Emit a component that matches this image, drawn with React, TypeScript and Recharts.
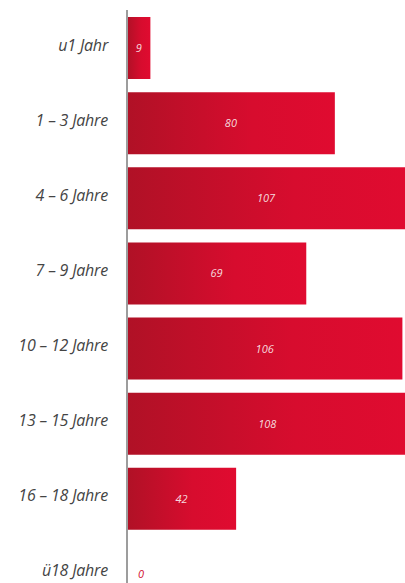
import { BarChart, Bar, XAxis, YAxis, LabelList } from "recharts";

const categories = ["u1 Jahr", "1 – 3 Jahre", "4 – 6 Jahre", "7 – 9 Jahre", "10 – 12 Jahre", "13 – 15 Jahre", "16 – 18 Jahre", "ü18 Jahre"];
const counts = [9, 80, 107, 69, 106, 108, 42, 0];

const data = categories.map((name, i) => ({ name, count: counts[i] }));

const FONT = "'Open Sans', 'Noto Sans', sans-serif";

function CategoryTick(props: any) {
  const { x, y, payload } = props;
  return (
    <text x={x} y={y} dy={3} textAnchor="end" fill="#444" fontSize={16} fontStyle="italic" fontFamily={FONT} letterSpacing={-0.2}>
      {payload.value}
    </text>
  );
}

// value inside the bar, or just right of the axis when the bar is empty
function ValueLabel(props: any) {
  const { x, y, width, height, value } = props;
  const cy = y + height / 2;
  if (!value) {
    return (
      <text x={x + 11} y={cy} dy={4} fill="#d0102f" fontSize={11} fontStyle="italic" fontFamily={FONT}>
        {value}
      </text>
    );
  }
  return (
    <text x={x + width / 2} y={cy} dy={4} textAnchor="middle" fill="#f6d9de" fontSize={11} fontStyle="italic" fontFamily={FONT}>
      {value}
    </text>
  );
}

export default function App() {
  return (
    <div style={{ position: "fixed", top: 0, left: 0, width: 405, height: 583, overflow: "hidden", background: "#fff" }}>
      <BarChart
        width={405}
        height={617}
        data={data}
        layout="vertical"
        margin={{ top: 10, right: 0, left: 0, bottom: 6 }}
      >
        <defs>
          <linearGradient id="barGradient" x1="0" y1="0" x2="1" y2="0">
            <stop offset="0%" stopColor="#b01126" />
            <stop offset="60%" stopColor="#d70c2e" />
            <stop offset="100%" stopColor="#e00b30" />
          </linearGradient>
        </defs>
        <XAxis type="number" hide domain={[0, 107]} allowDataOverflow />
        <YAxis
          type="category"
          dataKey="name"
          width={127}
          tickLine={false}
          tickSize={0}
          tickMargin={19}
          axisLine={{ stroke: "#9d9d9d", strokeWidth: 2 }}
          tick={<CategoryTick />}
          interval={0}
        />
        <Bar
          dataKey="count"
          fill="url(#barGradient)"
          barSize={62}
          minPointSize={(v: number) => (v === 0 ? 0.01 : 0)}
          isAnimationActive={false}
        >
          <LabelList dataKey="count" content={ValueLabel} />
        </Bar>
      </BarChart>
    </div>
  );
}
